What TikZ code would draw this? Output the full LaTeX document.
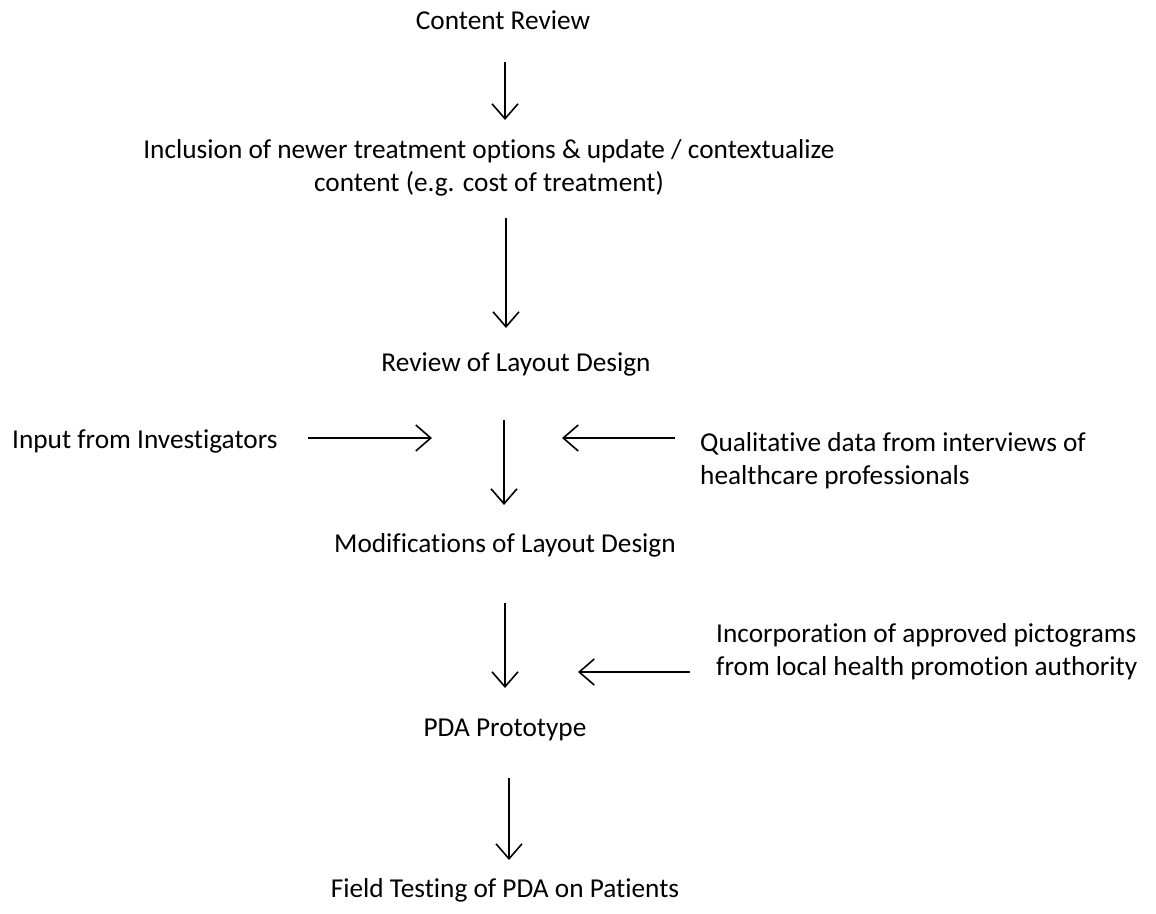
\documentclass[tikz,border=0pt]{standalone}
\usepackage{fontspec}
\setmainfont{Carlito}[Ligatures={NoCommon}]
\usetikzlibrary{arrows.meta}
\begin{document}
\begin{tikzpicture}[x=1pt,y=-1pt,
  lbl/.style={inner sep=0pt,font=\fontsize{27.3}{33}\selectfont,align=center},
  lbll/.style={inner sep=0pt,font=\fontsize{27.3}{33}\selectfont,align=left,anchor=west},
  arr/.style={line width=1.6pt,-{Straight Barb[length=15pt,width=26pt,line width=1.6pt]}}]
\useasboundingbox (0,0) rectangle (1156,913);
\node[lbl] (cr) at (503,20) {Content Review};
\coordinate (a1s) at (505,62); \coordinate (a1e) at (505,120);
\draw[arr] (a1s) -- (a1e);
\node[lbl] (inc) at (489,168) {Inclusion of newer treatment options \& update / contextualize\\content (e.g. cost of treatment)};
\coordinate (a2s) at (506,218); \coordinate (a2e) at (506,328);
\draw[arr] (a2s) -- (a2e);
\node[lbl] (rev) at (516,364) {Review of Layout Design};
\coordinate (a3s) at (504,420); \coordinate (a3e) at (504,505);
\draw[arr] (a3s) -- (a3e);
\node[lbll] (inp) at (12,441) {Input from Investigators};
\coordinate (b1s) at (308,438); \coordinate (b1e) at (432,438);
\draw[arr] (b1s) -- (b1e);
\node[lbll] (qual) at (700,461) {Qualitative data from interviews of\\healthcare professionals};
\coordinate (b2s) at (675,438); \coordinate (b2e) at (562,438);
\draw[arr] (b2s) -- (b2e);
\node[lbl] (mod) at (505,545) {Modifications of Layout Design};
\coordinate (a4s) at (505,603); \coordinate (a4e) at (505,688);
\draw[arr] (a4s) -- (a4e);
\node[lbll] (incp) at (716,652) {Incorporation of approved pictograms\\from local health promotion authority};
\coordinate (b3s) at (690,672); \coordinate (b3e) at (578,672);
\draw[arr] (b3s) -- (b3e);
\node[lbl] (pda) at (505,730) {PDA Prototype};
\coordinate (a5s) at (509,778); \coordinate (a5e) at (509,860);
\draw[arr] (a5s) -- (a5e);
\node[lbl] (ft) at (505,890) {Field Testing of PDA on Patients};
\end{tikzpicture}
\end{document}
